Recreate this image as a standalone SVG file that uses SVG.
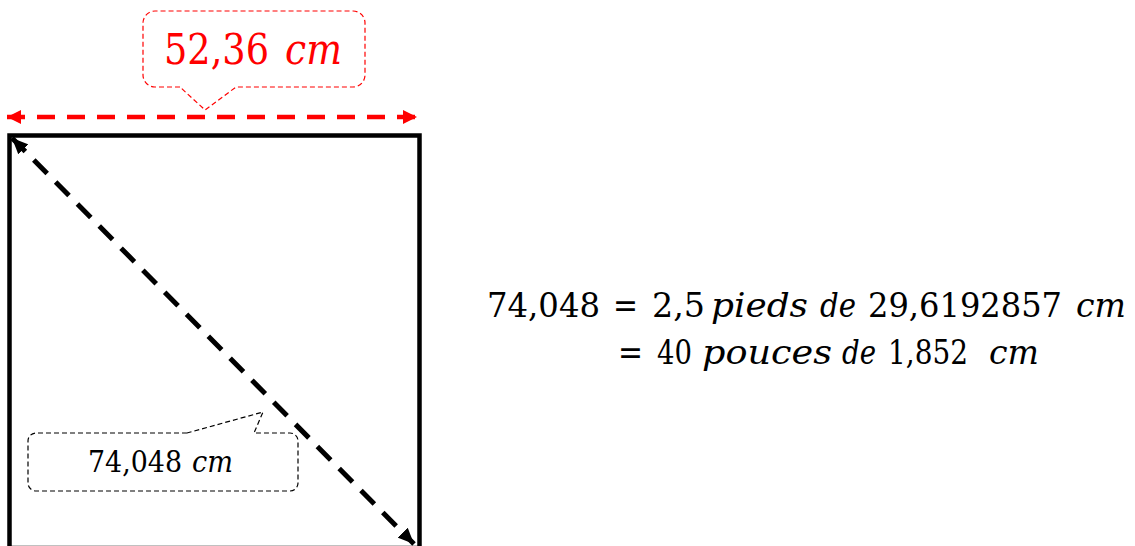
<svg xmlns="http://www.w3.org/2000/svg" width="1135" height="546" viewBox="0 0 1135 546">
<style>
.t{font-family:"DejaVu Serif","Liberation Serif",serif;}
.i{font-style:italic;}
.red{fill:#ff0000;}
.blk{fill:#000;}
</style>
<defs>
<marker id="ar" markerUnits="userSpaceOnUse" markerWidth="15" markerHeight="15" refX="14" refY="7" orient="auto-start-reverse" viewBox="0 0 15 14">
<path d="M0,0 L14,7 L0,14 Z" fill="#ff0000"/>
</marker>
<marker id="ab" markerUnits="userSpaceOnUse" markerWidth="17" markerHeight="15" refX="16" refY="7" orient="auto-start-reverse" viewBox="0 0 17 14">
<path d="M0,0 L16,7 L0,14 Z" fill="#000"/>
</marker>
</defs>
<rect width="1135" height="546" fill="#fff"/>
<g id="square">
<rect x="9.5" y="135.5" width="410" height="412.5" fill="none" stroke="#000" stroke-width="4.5"/>
</g>
<g id="connectors">
<line x1="7" y1="117" x2="417" y2="117" stroke="#ff0000" stroke-width="4.5" stroke-dasharray="18 12" marker-start="url(#ar)" marker-end="url(#ar)"/>
<line x1="12" y1="138" x2="414" y2="544" stroke="#000" stroke-width="5" stroke-dasharray="19 12" marker-start="url(#ab)" marker-end="url(#ab)"/>
</g>
<g id="width-label">
<path d="M180,87 H155 A12,12 0 0 1 143,75 V23 A12,12 0 0 1 155,11 H353 A12,12 0 0 1 365,23 V75 A12,12 0 0 1 353,87 H236 L205,110 Z" fill="#fff" stroke="#ff0000" stroke-width="1.2" stroke-dasharray="5 3"/>
<text class="t red" x="164" y="64" font-size="42" textLength="105" lengthAdjust="spacingAndGlyphs">52,36</text>
<text class="t red i" x="285" y="64" font-size="42" textLength="57" lengthAdjust="spacingAndGlyphs">cm</text>
</g>
<g id="diagonal-label">
<path d="M187,433 H36 A8,8 0 0 0 28,441 V483 A8,8 0 0 0 36,491 H290 A8,8 0 0 0 298,483 V441 A8,8 0 0 0 290,433 H254 L263,412 Z" fill="#fff" stroke="#000" stroke-width="1.2" stroke-dasharray="5 3"/>
<text class="t blk" x="88" y="472" font-size="29" textLength="94" lengthAdjust="spacingAndGlyphs">74,048</text>
<text class="t blk i" x="192" y="472" font-size="29" textLength="41" lengthAdjust="spacingAndGlyphs">cm</text>
</g>
<g id="equation" class="t" font-size="34">
<text x="487" y="317" textLength="113" lengthAdjust="spacingAndGlyphs">74,048</text>
<text x="613" y="317" textLength="25" lengthAdjust="spacingAndGlyphs">=</text>
<text x="652" y="317" textLength="53" lengthAdjust="spacingAndGlyphs">2,5</text>
<text class="i" x="711" y="317" textLength="97" lengthAdjust="spacingAndGlyphs">pieds</text>
<text class="i" x="820" y="317" textLength="36" lengthAdjust="spacingAndGlyphs">de</text>
<text x="868" y="317" textLength="194" lengthAdjust="spacingAndGlyphs">29,6192857</text>
<text class="i" x="1076" y="317" textLength="50" lengthAdjust="spacingAndGlyphs">cm</text>
<text x="618" y="364" textLength="25" lengthAdjust="spacingAndGlyphs">=</text>
<text x="657" y="364" textLength="35" lengthAdjust="spacingAndGlyphs">40</text>
<text class="i" x="702" y="364" textLength="130" lengthAdjust="spacingAndGlyphs">pouces</text>
<text class="i" x="842" y="364" textLength="34" lengthAdjust="spacingAndGlyphs">de</text>
<text x="888" y="364" textLength="80" lengthAdjust="spacingAndGlyphs">1,852</text>
<text class="i" x="989" y="364" textLength="50" lengthAdjust="spacingAndGlyphs">cm</text>
</g>
</svg>
